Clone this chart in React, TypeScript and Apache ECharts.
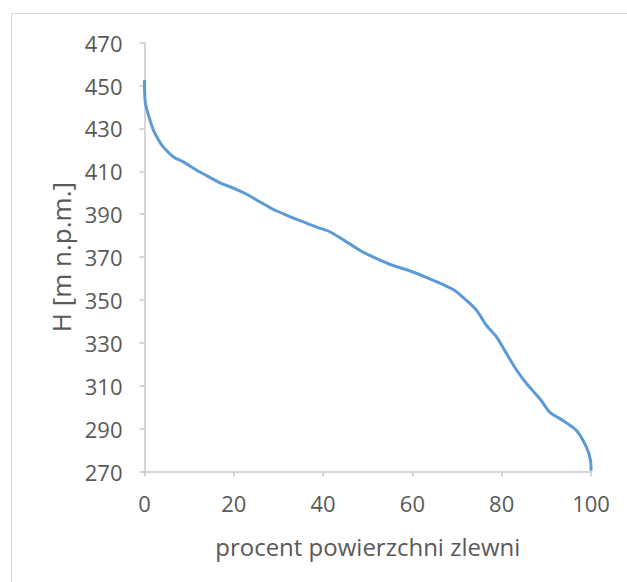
import React, { useEffect, useRef } from "react";
import * as echarts from "echarts";

const percentArea = [0, 0.16, 0.9, 2.0, 3.4, 4.3, 6.5, 8.7, 11.7, 14.7, 17.3, 19.9, 22.9, 25.9, 28.9, 31.9, 35.6, 38.6, 41.6, 44.5, 48.3, 52.0, 55.5, 59.5, 63.9, 69.2, 72.1, 74.4, 76.6, 78.9, 81.1, 83.4, 85.6, 88.6, 90.8, 93.8, 96.8, 99.0, 99.9, 100];
const elevation = [452.6, 442.4, 436.2, 429.2, 423.7, 421.1, 416.7, 414.4, 410.5, 407.1, 404.3, 402.2, 399.3, 395.7, 392.2, 389.5, 386.4, 384.0, 381.7, 378.1, 373.1, 369.3, 366.2, 363.5, 359.9, 354.8, 349.8, 345.1, 338.1, 332.6, 324.9, 317.1, 310.9, 303.8, 297.6, 293.7, 289.0, 281.2, 275.0, 270.4];
const xTitle = "procent powierzchni zlewni";
const yTitle = "H [m n.p.m.]";

export default function App() {
  const ref = useRef<HTMLDivElement>(null);
  useEffect(() => {
    if (!ref.current) return;
    const chart = echarts.init(ref.current, undefined, { renderer: "svg" });
    const font = "'Open Sans', 'Noto Sans', sans-serif";
    const labelColor = "#595959";
    const axisColor = "#c8c8c8";
    chart.setOption({
      animation: false,
      backgroundColor: "#ffffff",
      graphic: [
        {
          type: "rect",
          shape: { x: 11.5, y: 13.5, width: 700, height: 700 },
          style: { fill: "none", stroke: "#d9d9d9", lineWidth: 1 },
          silent: true,
        },
      ],
      grid: { left: 144.5, right: 36, top: 42.7, bottom: 110.5 },
      xAxis: {
        type: "value",
        min: 0,
        max: 100,
        interval: 20,
        name: xTitle,
        nameLocation: "middle",
        nameGap: 63,
        nameTextStyle: { color: labelColor, fontSize: 24, fontFamily: font },
        axisLine: { show: true, lineStyle: { color: axisColor, width: 1.5 } },
        axisTick: { show: true, length: 5, lineStyle: { color: axisColor, width: 1.5 } },
        axisLabel: { color: labelColor, fontSize: 22, fontFamily: font, margin: 20 },
        splitLine: { show: false },
      },
      yAxis: {
        type: "value",
        min: 270,
        max: 470,
        interval: 20,
        name: yTitle,
        nameLocation: "middle",
        nameGap: 68,
        nameRotate: 90,
        nameTextStyle: { color: labelColor, fontSize: 26, fontFamily: font },
        axisLine: { show: true, lineStyle: { color: axisColor, width: 1.5 } },
        axisTick: { show: true, length: 5, lineStyle: { color: axisColor, width: 1.5 } },
        axisLabel: { color: labelColor, fontSize: 22, fontFamily: font, margin: 22 },
        splitLine: { show: false },
      },
      series: [
        {
          type: "line",
          data: percentArea.map((p, i) => [p, elevation[i]]),
          smooth: 0.3,
          showSymbol: false,
          lineStyle: { color: "#5b9bd5", width: 3 },
          itemStyle: { color: "#5b9bd5" },
        },
      ],
    });
    return () => chart.dispose();
  }, []);
  return (
    <div
      ref={ref}
      style={{ position: "fixed", left: 0, top: 0, width: 627, height: 582, background: "#fff" }}
    />
  );
}
